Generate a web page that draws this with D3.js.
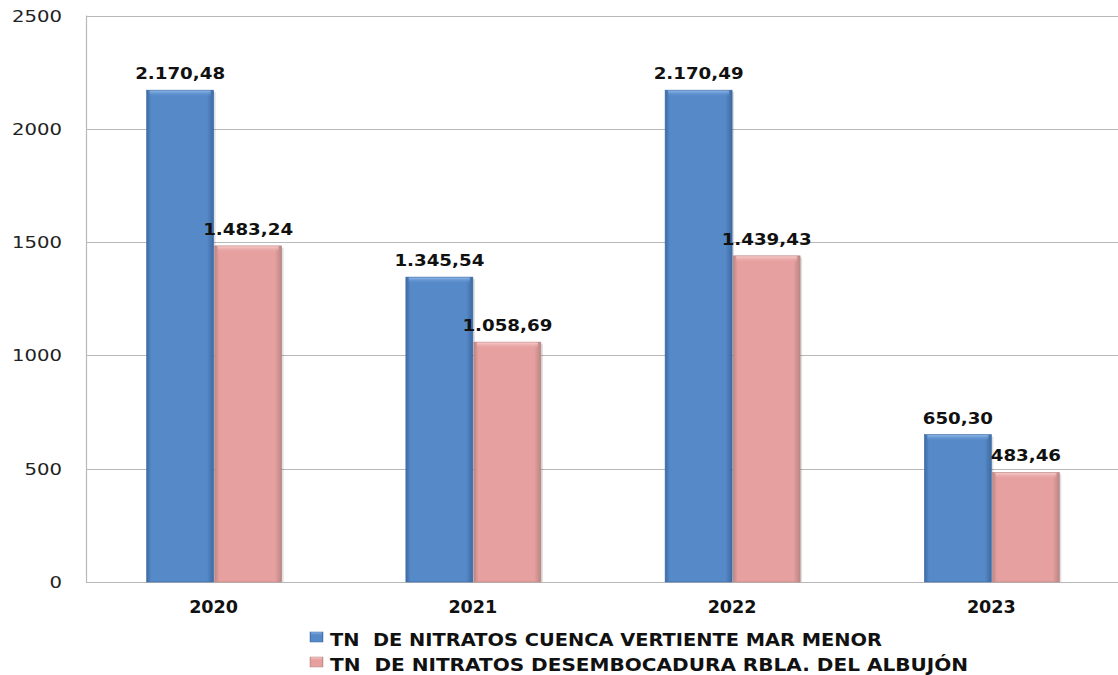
<!DOCTYPE html>
<html><head><meta charset="utf-8">
<script src="https://cdn.jsdelivr.net/npm/d3@7"></script>
<style>body{margin:0;background:#fff}svg{display:block}text{white-space:pre}</style>
</head><body>
<svg id="c" width="1118" height="675"></svg>
<script>
const categories = ["2020", "2021", "2022", "2023"];
const seriesNames = ["TN  DE NITRATOS CUENCA VERTIENTE MAR MENOR", "TN  DE NITRATOS DESEMBOCADURA RBLA. DEL ALBUJÓN"];
const cuenca = [2170.48, 1345.54, 2170.49, 650.30];
const albujon = [1483.24, 1058.69, 1439.43, 483.46];
const valueLabelsCuenca = ["2.170,48", "1.345,54", "2.170,49", "650,30"];
const valueLabelsAlbujon = ["1.483,24", "1.058,69", "1.439,43", "483,46"];
const yTicks = [0, 500, 1000, 1500, 2000, 2500];

(function(){
const svg = d3.select("#c");
const defs = svg.append("defs");
const colors = [
  {id: "gBlue", dark: "#3d6aa3", base: "#5689c8", light: "#79a5dc", top: "#8db6e8"},
  {id: "gPink", dark: "#b98684", base: "#e6a09f", light: "#efb9b8", top: "#f5cccb"}
];
colors.forEach(c => {
  const g = defs.append("linearGradient").attr("id", c.id).attr("x1", "0").attr("x2", "1").attr("y1", "0").attr("y2", "0");
  g.append("stop").attr("offset", "0%").attr("stop-color", c.dark);
  g.append("stop").attr("offset", "7%").attr("stop-color", c.base);
  g.append("stop").attr("offset", "90%").attr("stop-color", c.base);
  g.append("stop").attr("offset", "100%").attr("stop-color", c.dark);
  const t = defs.append("linearGradient").attr("id", c.id + "T").attr("x1", "0").attr("x2", "0").attr("y1", "0").attr("y2", "1");
  t.append("stop").attr("offset", "0%").attr("stop-color", c.top);
  t.append("stop").attr("offset", "100%").attr("stop-color", c.base).attr("stop-opacity", 0);
});

const pLeft = 86, pTop = 15.5, pBottom = 582, pRight = 1118;
const y = d3.scaleLinear().domain([0, 2500]).range([pBottom, pTop]);
const x = d3.scaleBand().domain(categories).range([84, 1121]).paddingInner(0).paddingOuter(0);
const barW = 67;

svg.append("g").selectAll("line").data(yTicks).join("line")
  .attr("x1", pLeft).attr("x2", pRight)
  .attr("y1", d => Math.round(y(d)) + 0.5).attr("y2", d => Math.round(y(d)) + 0.5)
  .attr("stroke", "#b8b8b8").attr("stroke-width", 1.2);
svg.append("line").attr("x1", pLeft + 0.5).attr("x2", pLeft + 0.5).attr("y1", pTop).attr("y2", pBottom + 0.5)
  .attr("stroke", "#b8b8b8").attr("stroke-width", 1.2);

function measure(str, font, size, weight) {
  const t = svg.append("text").attr("font-family", font).attr("font-size", size).attr("font-weight", weight).text(str);
  const w = t.node().getComputedTextLength(); t.remove(); return w;
}
const FONT = "DejaVu Sans";
const sxTick = 50 / measure("2500", FONT, 15, "normal");
const sxVal = 90 / measure("2.170,48", FONT, 16, "bold");
const sxYear = 49 / measure("2020", FONT, 17, "bold");

svg.append("g").selectAll("text").data(yTicks).join("text")
  .attr("transform", d => `translate(62,${y(d) + 6}) scale(${sxTick},1)`)
  .attr("text-anchor", "end").attr("font-family", FONT).attr("font-size", 15).attr("fill", "#222")
  .text(d => d);

const series = [
  {vals: cuenca, labels: valueLabelsCuenca, c: colors[0], off: 0},
  {vals: albujon, labels: valueLabelsAlbujon, c: colors[1], off: 1}
];
series.forEach(s => {
  const g = svg.append("g");
  const data = categories.map((k, i) => ({k, v: s.vals[i], l: s.labels[i]}));
  const bx = d => x(d.k) + x.bandwidth() / 2 - barW + s.off * (barW + 1);
  g.selectAll("rect.sh").data(data).join("rect").attr("class", "sh")
    .attr("x", d => bx(d) + 2).attr("y", d => y(d.v) + 2).attr("width", barW).attr("height", d => pBottom - y(d.v) - 2)
    .attr("fill", "#000").attr("opacity", 0.12);
  g.selectAll("rect.b").data(data).join("rect").attr("class", "b")
    .attr("x", bx).attr("y", d => y(d.v)).attr("width", barW).attr("height", d => pBottom - y(d.v))
    .attr("fill", `url(#${s.c.id})`).attr("stroke", s.c.dark).attr("stroke-width", 0.6);
  g.selectAll("rect.t").data(data).join("rect").attr("class", "t")
    .attr("x", d => bx(d) + 3).attr("y", d => y(d.v) + 0.5).attr("width", barW - 6).attr("height", 6)
    .attr("fill", `url(#${s.c.id}T)`);
  g.selectAll("text").data(data).join("text")
    .attr("transform", d => `translate(${bx(d) + barW / 2},${y(d.v) - 11}) scale(${sxVal},1)`)
    .attr("text-anchor", "middle").attr("font-family", FONT).attr("font-size", 16).attr("font-weight", "bold").attr("fill", "#111")
    .text(d => d.l);
});

svg.append("g").selectAll("text").data(categories).join("text")
  .attr("transform", d => `translate(${x(d) + x.bandwidth() / 2},613) scale(${sxYear},1)`)
  .attr("text-anchor", "middle").attr("font-family", FONT).attr("font-size", 17).attr("font-weight", "bold").attr("fill", "#111")
  .text(d => d);

const legW = [552, 638];
const lg = svg.append("g");
seriesNames.forEach((n, i) => {
  const yy = 646 + i * 25;
  lg.append("rect").attr("x", 310).attr("y", yy - 14).attr("width", 13).attr("height", 10)
    .attr("fill", `url(#${colors[i].id})`).attr("stroke", colors[i].dark).attr("stroke-width", 0.5);
  lg.append("rect").attr("x", 311).attr("y", yy - 13.5).attr("width", 11).attr("height", 3).attr("fill", `url(#${colors[i].id}T)`);
  lg.append("text").attr("x", 330).attr("y", yy).attr("font-family", FONT).attr("font-size", 17.5).attr("font-weight", "bold").attr("fill", "#111")
    .attr("textLength", legW[i]).attr("lengthAdjust", "spacingAndGlyphs").text(n);
});
})();
</script>
</body></html>
